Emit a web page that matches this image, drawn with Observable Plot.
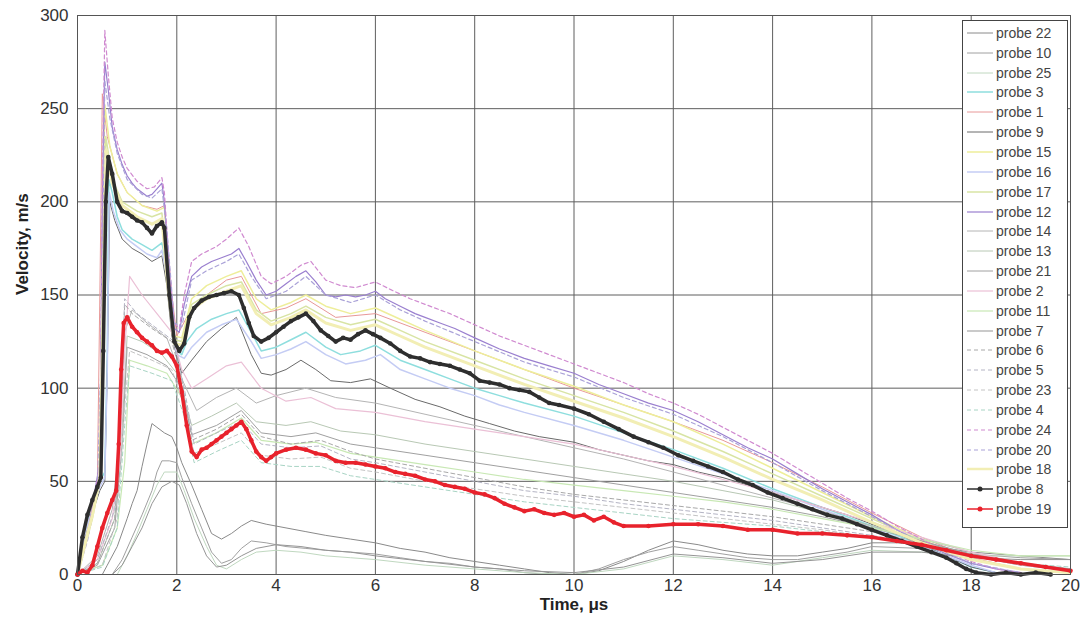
<!DOCTYPE html>
<html>
<head>
<meta charset="utf-8">
<script src="https://cdn.jsdelivr.net/npm/d3@7"></script>
<script src="https://cdn.jsdelivr.net/npm/@observablehq/plot@0.6"></script>
<style>
  html, body { margin: 0; padding: 0; background: #fff; }
  #wrap { position: relative; width: 1086px; height: 628px; font-family: "Liberation Sans", Arial, sans-serif; }
  #legend { position: absolute; left: 962px; top: 20px; width: 104px; background: #fff; border: 1px solid #444; padding: 2px 0 8px 0; }
  .item { display: flex; align-items: center; height: 19.85px; font-size: 14px; color: #444; }
  .item svg { margin-left: 3px; margin-right: 2px; }
</style>
</head>
<body>
<div id="wrap"><div id="chart"></div><div id="legend"></div></div>
<script>
// ---- data: [time (µs), velocity (m/s)] ----
const probe22 = [[0,0],[0.5,0],[0.6,5],[0.8,15],[1.0,30],[1.1,38],[1.2,45],[1.3,58],[1.4,70],[1.5,81],[1.6,79],[1.75,76],[1.9,74],[2.0,68],[2.1,60],[2.3,48],[2.5,35],[2.7,22],[2.9,19],[3.1,22],[3.3,26],[3.5,29],[3.8,27],[4.2,25],[4.6,23],[5.0,21],[5.5,19],[6.0,17],[6.5,14],[7.0,12],[7.5,9],[8.0,7],[8.5,5],[9.0,3],[9.5,1],[10,0],[10.5,2],[11,7],[11.5,13],[12,18],[12.5,16],[13,13],[13.5,11],[14,10],[14.5,10],[15,12],[15.5,14],[16,17],[16.5,17],[17,16],[17.5,14],[18,12],[19,10],[20,8]];
const probe10 = [[0,0],[0.7,0],[0.9,8],[1.1,20],[1.3,32],[1.5,45],[1.6,55],[1.7,61],[1.85,61],[2.0,60],[2.1,52],[2.3,38],[2.5,25],[2.7,12],[2.9,6],[3.1,8],[3.3,14],[3.5,18],[3.8,17],[4.2,15],[4.6,14],[5.0,13],[5.5,12],[6.0,11],[6.5,9],[7.0,7],[7.5,6],[8.0,4],[8.5,3],[9.0,1],[9.5,0],[10,0],[10.5,3],[11,8],[11.5,12],[12,15],[12.5,13],[13,11],[13.5,9],[14,8],[14.5,8],[15,10],[15.5,12],[16,15],[17,14],[18,11],[19,9],[20,8]];
const probe25 = [[0,0],[0.8,0],[1.0,10],[1.2,22],[1.4,35],[1.6,48],[1.75,55],[2.0,55],[2.15,45],[2.35,30],[2.6,15],[2.8,5],[3.0,3],[3.3,8],[3.6,12],[4.0,13],[4.5,12],[5.0,10],[5.5,9],[6.0,8],[7,5],[8,3],[9,1],[10,0],[11,3],[12,10],[13,8],[14,5],[15,9],[16,13],[17,12],[18,10],[19,10],[20,10]];
const probe3 = [[0,0],[0.15,25],[0.3,38],[0.45,50],[0.55,55],[0.6,120],[0.63,212],[0.7,205],[0.8,192],[0.9,185],[1.1,180],[1.3,177],[1.5,174],[1.7,178],[1.8,165],[1.9,135],[2.0,120],[2.1,118],[2.2,125],[2.4,132],[2.7,137],[3.0,140],[3.25,142],[3.5,130],[3.7,120],[4.0,122],[4.3,126],[4.6,130],[5.0,122],[5.3,118],[5.7,120],[6.0,123],[6.5,115],[7.0,110],[7.5,105],[8.0,100],[8.5,96],[9.0,92],[10,85],[11,76],[12,67],[13,57],[14,46],[15,36],[16,26],[17,16],[17.5,10],[18,4],[18.5,1],[19,0]];
const probe1 = [[0,0],[0.2,25],[0.4,50],[0.45,150],[0.5,258],[0.6,235],[0.8,215],[1.0,205],[1.3,198],[1.6,196],[1.75,198],[1.9,150],[2.0,128],[2.2,138],[2.6,150],[3.0,158],[3.3,160],[3.7,140],[4.2,143],[4.6,148],[5.2,138],[6.0,140],[7.0,130],[8.0,120],[9.0,110],[10,100],[11,91],[12,82],[13,72],[14,60],[15,47],[16,33],[17,20],[18,9],[19,3],[20,1]];
const probe9 = [[0,0],[0.15,20],[0.3,33],[0.45,45],[0.55,50],[0.6,110],[0.65,200],[0.75,190],[0.9,180],[1.1,175],[1.3,172],[1.5,168],[1.7,171],[1.8,155],[1.9,128],[2.0,117],[2.1,108],[2.3,115],[2.6,125],[2.9,132],[3.2,138],[3.5,118],[3.7,108],[3.9,107],[4.2,110],[4.5,115],[4.8,110],[5.1,104],[5.5,103],[5.9,105],[6.3,100],[6.8,94],[7.3,90],[7.8,85],[8.3,81],[8.8,77],[9.3,74],[10,71],[10.5,67],[11,64],[11.5,61],[12,59],[12.5,55],[13,52],[13.5,48],[14,44],[14.5,40],[15,36],[15.5,32],[16,27],[16.5,22],[17,16],[17.5,10],[18,4],[18.5,1],[19,0]];
const probe15 = [[0,0],[0.3,35],[0.45,55],[0.5,180],[0.55,252],[0.65,230],[0.8,215],[1.0,205],[1.3,198],[1.6,195],[1.75,197],[1.85,160],[1.95,128],[2.1,127],[2.3,148],[2.6,155],[3.0,160],[3.3,163],[3.6,148],[3.9,142],[4.3,146],[4.6,150],[5.0,144],[5.5,140],[6.0,143],[6.5,137],[7.0,131],[8.0,120],[9.0,110],[10,101],[11,91],[12,82],[13,70],[14,57],[15,44],[16,31],[17,19],[18,8],[19,3],[20,1]];
const probe16 = [[0,0],[0.15,22],[0.3,35],[0.45,47],[0.55,52],[0.6,110],[0.64,205],[0.72,195],[0.85,185],[1.0,180],[1.2,176],[1.4,172],[1.6,170],[1.7,174],[1.8,160],[1.9,132],[2.0,118],[2.15,116],[2.3,122],[2.6,130],[2.9,134],[3.2,137],[3.5,125],[3.7,116],[4.0,118],[4.3,121],[4.6,125],[5.0,118],[5.4,113],[5.8,115],[6.1,118],[6.5,110],[7.0,105],[7.5,100],[8.0,96],[8.5,91],[9.0,87],[10,80],[11,72],[12,63],[13,54],[14,45],[15,35],[16,25],[17,15],[18,5],[18.5,1],[19,0]];
const probe17 = [[0,0],[0.3,30],[0.45,50],[0.52,170],[0.57,235],[0.7,212],[0.9,200],[1.2,195],[1.5,192],[1.7,194],[1.82,160],[1.95,126],[2.1,125],[2.3,145],[2.6,150],[3.0,155],[3.3,157],[3.6,142],[3.9,136],[4.3,140],[4.6,144],[5.0,138],[5.5,134],[6.0,137],[6.5,131],[7.0,125],[8.0,115],[9.0,105],[10,96],[11,87],[12,77],[13,66],[14,54],[15,42],[16,30],[17,18],[18,8],[19,3],[20,1]];
const probe12 = [[0,0],[0.2,20],[0.35,45],[0.45,60],[0.5,200],[0.55,275],[0.62,260],[0.7,240],[0.8,228],[0.9,220],[1.0,214],[1.1,210],[1.2,207],[1.3,205],[1.4,203],[1.5,204],[1.6,207],[1.7,210],[1.75,200],[1.85,160],[1.95,132],[2.05,130],[2.15,145],[2.3,160],[2.5,165],[2.7,168],[2.9,170],[3.1,172],[3.25,175],[3.4,168],[3.6,158],[3.8,150],[4.0,152],[4.2,156],[4.4,160],[4.6,163],[4.8,157],[5.0,150],[5.2,149],[5.4,150],[5.6,149],[5.8,150],[6.0,152],[6.2,148],[6.5,144],[6.8,140],[7.0,138],[7.3,135],[7.6,132],[8.0,127],[8.5,121],[9.0,116],[9.5,112],[10,108],[10.5,102],[11,97],[11.5,92],[12,88],[12.5,82],[13,75],[13.5,68],[14,62],[14.5,54],[15,46],[15.5,39],[16,32],[16.5,24],[17,17],[17.5,11],[18,6],[18.5,3],[19,1]];
const probe14 = [[0,0],[0.4,10],[0.7,35],[0.85,70],[0.95,130],[1.1,142],[1.4,135],[1.8,127],[2.1,105],[2.4,88],[2.8,95],[3.2,100],[3.6,92],[4.0,96],[4.6,100],[5.2,95],[6.0,92],[7.0,86],[8.0,80],[9.0,74],[10,68],[11,62],[12,55],[13,48],[14,41],[15,34],[16,26],[17,18],[18,10],[19,5],[20,2]];
const probe13 = [[0,0],[0.4,6],[0.75,30],[0.9,80],[1.0,128],[1.3,125],[1.7,118],[2.0,108],[2.3,80],[2.7,85],[3.2,92],[3.6,82],[4.2,80],[4.7,82],[5.3,77],[6.0,75],[7.0,70],[8.0,66],[9.0,62],[10,58],[11,54],[12,50],[13,45],[14,40],[15,33],[16,26],[17,19],[18,12],[19,6],[20,3]];
const probe21 = [[0,0],[0.4,5],[0.75,25],[0.9,70],[1.0,122],[1.4,118],[1.8,112],[2.1,100],[2.3,75],[2.8,80],[3.3,88],[3.7,76],[4.3,74],[4.8,76],[5.5,70],[6.0,68],[7.0,64],[8.0,60],[9.0,56],[10,52],[11,48],[12,44],[13,40],[14,36],[15,31],[16,25],[17,18],[18,11],[19,6],[20,3]];
const probe2 = [[0,0],[0.4,8],[0.7,30],[0.85,60],[0.95,120],[1.05,160],[1.3,150],[1.6,140],[1.9,130],[2.1,110],[2.3,100],[2.6,105],[3.0,112],[3.3,114],[3.7,100],[4.2,93],[4.7,95],[5.2,89],[6.0,87],[7.0,82],[8.0,78],[9.0,74],[10,70],[11,64],[12,58],[13,51],[14,44],[15,36],[16,28],[17,20],[18,12],[19,6],[20,2]];
const probe11 = [[0,0],[0.5,5],[0.8,25],[0.95,60],[1.05,115],[1.4,112],[1.8,108],[2.1,95],[2.3,70],[2.8,76],[3.3,84],[3.7,72],[4.3,70],[4.8,71],[5.5,65],[6.0,63],[7.0,59],[8.0,55],[9.0,51],[10,48],[11,45],[12,42],[13,39],[14,35],[15,30],[16,25],[17,19],[18,13],[19,10],[20,10]];
const probe7 = [[0,0],[0.7,0],[0.9,5],[1.1,15],[1.3,25],[1.5,38],[1.7,47],[1.9,50],[2.05,48],[2.2,38],[2.4,22],[2.6,10],[2.8,4],[3.0,5],[3.3,10],[3.6,14],[4.0,16],[4.5,15],[5.0,13],[5.5,12],[6.0,10],[7,7],[8,4],[9,2],[10,1],[11,4],[12,11],[13,9],[14,6],[15,8],[16,12],[17,12],[18,9],[19,8],[20,8]];
const probe6 = [[0,0],[0.4,6],[0.75,30],[0.88,90],[0.95,145],[1.1,140],[1.5,132],[1.9,125],[2.1,105],[2.3,72],[2.8,78],[3.3,86],[3.7,74],[4.3,70],[4.9,72],[5.5,66],[6.0,62],[7.0,57],[8.0,52],[9.0,47],[10,43],[11,40],[12,37],[13,34],[14,31],[15,27],[16,23],[17,17],[18,11],[19,6],[20,3]];
const probe5 = [[0,0],[0.4,8],[0.75,35],[0.88,100],[0.95,148],[1.2,140],[1.6,132],[1.95,125],[2.15,100],[2.35,70],[2.8,76],[3.3,82],[3.7,70],[4.3,68],[4.9,69],[5.5,62],[6.0,60],[7.0,55],[8.0,50],[9.0,45],[10,42],[11,38],[12,35],[13,32],[14,29],[15,25],[16,21],[17,16],[18,10],[19,5],[20,2]];
const probe23 = [[0,0],[0.5,5],[0.8,30],[0.95,90],[1.05,120],[1.5,115],[1.9,110],[2.15,90],[2.35,65],[2.8,70],[3.3,76],[3.7,64],[4.3,62],[4.9,63],[5.5,57],[6.0,55],[7.0,50],[8.0,46],[9.0,42],[10,39],[11,36],[12,33],[13,30],[14,27],[15,24],[16,20],[17,15],[18,10],[19,5],[20,2]];
const probe4 = [[0,0],[0.5,4],[0.8,25],[0.95,80],[1.05,112],[1.5,108],[1.9,104],[2.15,85],[2.35,60],[2.8,66],[3.3,72],[3.7,60],[4.3,58],[4.9,58],[5.5,53],[6.0,51],[7.0,47],[8.0,43],[9.0,39],[10,36],[11,33],[12,30],[13,28],[14,26],[15,23],[16,20],[17,15],[18,10],[19,6],[20,4]];
const probe24 = [[0,0],[0.2,22],[0.35,42],[0.45,60],[0.5,210],[0.55,292],[0.62,268],[0.7,245],[0.8,232],[0.9,224],[1.0,218],[1.2,211],[1.4,207],[1.55,208],[1.7,213],[1.75,205],[1.85,165],[1.95,135],[2.05,132],[2.15,150],[2.3,168],[2.5,172],[2.8,176],[3.0,180],[3.25,186],[3.45,176],[3.7,160],[3.9,156],[4.2,160],[4.5,166],[4.7,168],[5.0,158],[5.3,155],[5.6,154],[6.0,157],[6.3,153],[6.7,148],[7.0,145],[7.5,140],[8.0,134],[8.5,128],[9.0,123],[9.5,118],[10,113],[10.5,108],[11,103],[11.5,97],[12,92],[12.5,86],[13,79],[13.5,72],[14,65],[14.5,57],[15,49],[15.5,41],[16,34],[16.5,26],[17,19],[17.5,12],[18,7],[18.5,3],[19,1]];
const probe20 = [[0,0],[0.2,18],[0.4,45],[0.48,120],[0.55,265],[0.65,245],[0.8,226],[1.0,212],[1.3,204],[1.5,202],[1.7,207],[1.8,185],[1.95,135],[2.1,133],[2.3,158],[2.6,163],[3.0,168],[3.25,172],[3.5,160],[3.8,148],[4.2,152],[4.6,160],[5.0,150],[5.5,146],[6.0,150],[6.5,142],[7.0,136],[8.0,125],[9.0,114],[10,106],[11,95],[12,86],[13,74],[14,60],[15,45],[16,31],[17,17],[18,6],[19,1]];
const probe18 = [[0,0],[0.3,32],[0.45,52],[0.52,150],[0.58,228],[0.7,210],[0.9,198],[1.2,192],[1.5,188],[1.7,191],[1.82,155],[1.95,124],[2.1,123],[2.3,142],[2.6,148],[3.0,152],[3.3,155],[3.6,140],[3.9,134],[4.3,138],[4.6,142],[5.0,135],[5.5,131],[6.0,134],[6.5,128],[7.0,122],[8.0,112],[9.0,102],[10,93],[11,84],[12,74],[13,63],[14,51],[15,40],[16,28],[17,17],[18,8],[19,3],[20,1]];
const probe8 = [[0,0],[0.1,20],[0.2,32],[0.3,40],[0.4,47],[0.47,52],[0.52,120],[0.57,200],[0.62,224],[0.7,215],[0.8,200],[0.9,195],[1.0,194],[1.1,192],[1.2,190],[1.3,189],[1.4,186],[1.5,183],[1.6,187],[1.7,189],[1.75,186],[1.85,150],[1.95,125],[2.05,120],[2.15,124],[2.25,138],[2.35,143],[2.5,147],[2.65,149],[2.8,150],[2.95,151],[3.1,152],[3.25,150],[3.35,143],[3.45,135],[3.55,128],[3.7,125],[3.85,127],[4.0,130],[4.15,133],[4.3,136],[4.45,138],[4.6,140],[4.75,136],[4.9,131],[5.05,128],[5.2,125],[5.35,127],[5.5,126],[5.65,129],[5.8,131],[5.95,129],[6.1,127],[6.3,124],[6.5,120],[6.7,117],[6.9,116],[7.1,114],[7.3,113],[7.5,112],[7.7,110],[7.9,108],[8.1,104],[8.3,103],[8.5,102],[8.7,100],[8.9,99],[9.1,98],[9.3,95],[9.5,92],[9.7,91],[10.0,89],[10.3,86],[10.6,82],[10.9,78],[11.2,74],[11.5,71],[11.8,68],[12.1,64],[12.4,61],[12.7,58],[13.0,55],[13.3,51],[13.6,48],[13.9,44],[14.2,41],[14.5,38],[14.8,35],[15.1,32],[15.4,30],[15.7,27],[16.0,24],[16.3,21],[16.6,18],[16.9,15],[17.2,12],[17.5,9],[17.7,6],[17.9,3],[18.1,1],[18.4,0],[18.7,1],[19.0,0],[19.3,1],[19.6,0]];
const probe19 = [[0,0],[0.1,2],[0.2,1],[0.3,5],[0.4,15],[0.5,25],[0.6,33],[0.7,40],[0.78,45],[0.83,70],[0.88,110],[0.93,135],[1.0,138],[1.1,133],[1.2,130],[1.3,127],[1.4,125],[1.5,123],[1.6,120],[1.7,119],[1.8,120],[1.9,117],[2.0,112],[2.1,98],[2.2,80],[2.3,66],[2.4,63],[2.5,67],[2.6,68],[2.7,70],[2.8,72],[2.9,74],[3.0,76],[3.1,78],[3.2,80],[3.3,82],[3.4,78],[3.5,72],[3.6,66],[3.7,63],[3.8,61],[3.9,63],[4.0,65],[4.2,67],[4.4,68],[4.6,67],[4.8,65],[5.0,64],[5.2,61],[5.4,60],[5.6,60],[5.8,59],[6.0,58],[6.2,57],[6.4,55],[6.6,54],[6.8,53],[7.0,51],[7.2,50],[7.4,48],[7.6,47],[7.8,46],[8.0,44],[8.2,43],[8.4,41],[8.6,38],[8.8,36],[9.0,34],[9.2,35],[9.4,33],[9.6,32],[9.8,33],[10.0,31],[10.2,32],[10.4,29],[10.6,31],[10.8,28],[11.0,26],[11.5,26],[12.0,27],[12.5,27],[13.0,26],[13.5,24],[14.0,24],[14.5,22],[15.0,22],[15.5,21],[16.0,20],[16.5,18],[17.0,16],[17.5,13],[18.0,10],[18.5,8],[19.0,6],[19.5,4],[20.0,2]];

const probeNames = ["probe 22","probe 10","probe 25","probe 3","probe 1","probe 9","probe 15","probe 16","probe 17","probe 12","probe 14","probe 13","probe 21","probe 2","probe 11","probe 7","probe 6","probe 5","probe 23","probe 4","probe 24","probe 20","probe 18","probe 8","probe 19"];
const probeValues = [probe22,probe10,probe25,probe3,probe1,probe9,probe15,probe16,probe17,probe12,probe14,probe13,probe21,probe2,probe11,probe7,probe6,probe5,probe23,probe4,probe24,probe20,probe18,probe8,probe19];
const xTicks = [0,2,4,6,8,10,12,14,16,18,20];
const yTicks = [0,50,100,150,200,250,300];

// ---- styles (separate from data) ----
const styles = {
  "probe 22": {stroke:"#8a8a8a", w:1},
  "probe 10": {stroke:"#a0a0a0", w:1},
  "probe 25": {stroke:"#c0d8c0", w:1},
  "probe 3":  {stroke:"#8edede", w:1.5},
  "probe 1":  {stroke:"#e89898", w:1},
  "probe 9":  {stroke:"#6a6a6a", w:1},
  "probe 15": {stroke:"#eeee9a", w:1.5},
  "probe 16": {stroke:"#c4ccf4", w:1.5},
  "probe 17": {stroke:"#d8e4a4", w:1.5},
  "probe 12": {stroke:"#9a7fcf", w:1.2},
  "probe 14": {stroke:"#b4b4b4", w:1},
  "probe 13": {stroke:"#b8c8b4", w:1},
  "probe 21": {stroke:"#a0a0a0", w:1},
  "probe 2":  {stroke:"#ebc0d6", w:1.2},
  "probe 11": {stroke:"#c8e8b4", w:1.2},
  "probe 7":  {stroke:"#959595", w:1},
  "probe 6":  {stroke:"#a8a8a8", w:1, dash:"4,3"},
  "probe 5":  {stroke:"#b4b4c4", w:1, dash:"4,3"},
  "probe 23": {stroke:"#c4c4c4", w:1, dash:"4,3"},
  "probe 4":  {stroke:"#a8d4c4", w:1, dash:"4,3"},
  "probe 24": {stroke:"#d08ad0", w:1.2, dash:"4,3"},
  "probe 20": {stroke:"#aaa2d8", w:1.2, dash:"4,3"},
  "probe 18": {stroke:"#f2eeb4", w:3},
  "probe 8":  {stroke:"#2e2e2e", w:3.5, marker:true},
  "probe 19": {stroke:"#e8222c", w:3.5, marker:true}
};

const table = probeNames.map((name, i) => ({name, points: probeValues[i]}));

const marks = [
  Plot.gridX({ticks: xTicks, stroke: "#5e5e5e", strokeOpacity: 1}),
  Plot.gridY({ticks: yTicks, stroke: "#5e5e5e", strokeOpacity: 1})
];
for (const s of table) {
  const st = styles[s.name];
  marks.push(Plot.line(s.points, {x: d => d[0], y: d => d[1], stroke: st.stroke, strokeWidth: st.w, strokeDasharray: st.dash || null}));
  if (st.marker) {
    marks.push(Plot.dot(s.points, {x: d => d[0], y: d => d[1], r: 2.3, fill: st.stroke, stroke: "none"}));
  }
}
marks.push(
  Plot.frame({stroke: "#555"}),
  Plot.axisX({ticks: xTicks, tickSize: 0, tickPadding: 4, label: null, fill: "#333", fontSize: 17}),
  Plot.axisY({ticks: yTicks, tickSize: 0, tickPadding: 9, label: null, fill: "#333", fontSize: 17}),
  Plot.text(["Time, μs"], {frameAnchor: "bottom", dy: 35, fontWeight: "bold", fontSize: 17, fill: "#222"}),
  Plot.text(["Velocity, m/s"], {frameAnchor: "left", dx: -55, rotate: -90, fontWeight: "bold", fontSize: 17, fill: "#222"})
);

const chart = Plot.plot({
  width: 1086,
  height: 628,
  marginLeft: 77,
  marginRight: 16,
  marginTop: 15,
  marginBottom: 54,
  x: {domain: [0, 20]},
  y: {domain: [0, 300]},
  style: {fontSize: "17px", fontFamily: "'Liberation Sans', Arial, sans-serif", background: "#fff", overflow: "visible"},
  marks
});
document.getElementById("chart").appendChild(chart);

// ---- legend ----
const legend = d3.select("#legend");
for (const name of probeNames) {
  const st = styles[name];
  const item = legend.append("div").attr("class", "item");
  const svg = item.append("svg").attr("width", 28).attr("height", 12);
  svg.append("line").attr("x1", 1).attr("x2", 27).attr("y1", 6).attr("y2", 6)
    .attr("stroke", st.stroke).attr("stroke-width", st.marker ? 1.5 : Math.min(st.w, 2.5))
    .attr("stroke-dasharray", st.dash || null);
  if (st.marker) svg.append("circle").attr("cx", 14).attr("cy", 6).attr("r", 2.5).attr("fill", st.stroke);
  item.append("span").text(name);
}
</script>
</body>
</html>
